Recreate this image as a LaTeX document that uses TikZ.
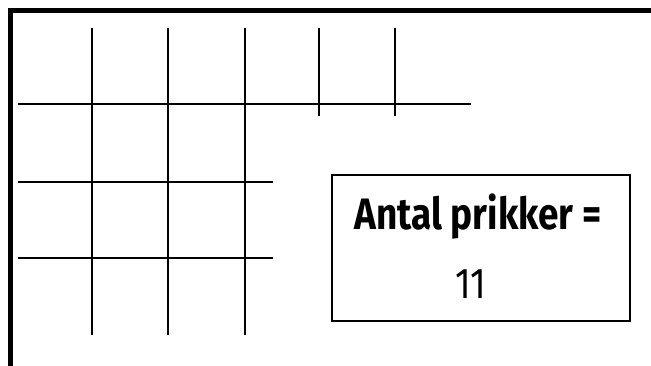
\documentclass[tikz,border=0pt]{standalone}
\usepackage{fontspec}
\setmainfont{Fira Sans}[FakeStretch=0.84]
\begin{document}
\begin{tikzpicture}[x=1pt,y=-1pt,gridline/.style={line width=2.2pt},countbox/.style={draw,line width=2pt,minimum width=298pt,minimum height=146pt}]
\clip (0,0) rectangle (651,366);
\fill[white] (0,0) rectangle (651,366);
\draw[line width=5pt] (10.8,380) -- (10.8,10.8) -- (670,10.8);
% vertical lines
\foreach \x in {92,168,245} \draw[gridline] (\x,28) -- (\x,335);
\foreach \x in {319,395} \draw[gridline] (\x,28) -- (\x,116);
% horizontal lines
\draw[gridline] (17.5,104) -- (471,104);
\draw[gridline] (17.5,182) -- (273,182);
\draw[gridline] (17.5,258) -- (273,258);
\node[countbox] (box) at (481,248) {};
\node[font=\fontsize{44}{48}\selectfont\bfseries] (label) at (478,217) {Antal prikker =};
\node[font=\fontsize{43}{48}\selectfont] (count) at (471,284) {11};
\end{tikzpicture}
\end{document}
